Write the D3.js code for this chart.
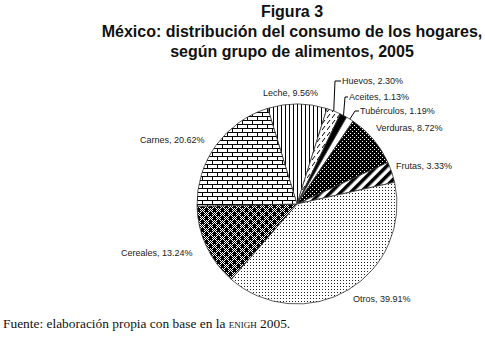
<!DOCTYPE html>
<html>
<head>
<meta charset="utf-8">
<script src="https://cdn.jsdelivr.net/npm/d3@7"></script>
<style>
  body { margin: 0; background: #fff; }
  svg { display: block; }
</style>
</head>
<body>
<script>
// data
var categories = ["Leche", "Huevos", "Aceites", "Tubérculos", "Verduras", "Frutas", "Otros", "Cereales", "Carnes"];
var shares = [9.56, 2.30, 1.13, 1.19, 8.72, 3.33, 39.91, 13.24, 20.62];
var fills = ["vlines", "dashdiag", "black", "white", "darkdots", "widediag", "lightdots", "checks", "bricks"];

// where each label sits (text start x, baseline y) and leader elbow if any
var labelPos = {
  "Leche":      {x: 263, y: 96},
  "Huevos":     {x: 342, y: 84, elbow: [335, 81]},
  "Aceites":    {x: 349, y: 100, elbow: [345, 97]},
  "Tubérculos": {x: 360, y: 114, elbow: [355, 111]},
  "Verduras":   {x: 376, y: 131},
  "Frutas":     {x: 396, y: 169},
  "Otros":      {x: 353, y: 302},
  "Cereales":   {x: 121, y: 256},
  "Carnes":     {x: 140, y: 143}
};

var width = 485, height = 339;
var cx = 297, cy = 204, r = 100;
var start = -17 * Math.PI / 180;

var svg = d3.select("body").append("svg")
    .attr("width", width)
    .attr("height", height);

var defs = svg.append("defs");

function pat(id, w, h){
  var p = defs.append("pattern")
      .attr("id", id)
      .attr("patternUnits", "userSpaceOnUse")
      .attr("width", w).attr("height", h);
  return p;
}

// vertical lines
var p = pat("vlines", 4, 4);
p.append("rect").attr("width", 4).attr("height", 4).attr("fill", "#fff");
p.append("rect").attr("x", 0).attr("width", 1).attr("height", 4).attr("fill", "#000");

// dashed diagonals
p = pat("dashdiag", 5, 6);
p.append("rect").attr("width", 5).attr("height", 6).attr("fill", "#fff");
p.append("line").attr("x1", 0).attr("y1", 4).attr("x2", 3).attr("y2", 0)
  .attr("stroke", "#000").attr("stroke-width", 1);

// dark dots
p = pat("darkdots", 4, 4);
p.append("rect").attr("width", 4).attr("height", 4).attr("fill", "#000");
p.append("rect").attr("x", 1).attr("y", 1).attr("width", 1).attr("height", 1).attr("fill", "#fff");
p.append("rect").attr("x", 3).attr("y", 3).attr("width", 1).attr("height", 1).attr("fill", "#fff");

// wide diagonals
p = pat("widediag", 7, 7).attr("patternTransform", "rotate(45)");
p.append("rect").attr("width", 7).attr("height", 7).attr("fill", "#fff");
p.append("rect").attr("width", 3.5).attr("height", 7).attr("fill", "#000");

// light dots
p = pat("lightdots", 3, 3);
p.append("rect").attr("width", 3).attr("height", 3).attr("fill", "#fff");
p.append("rect").attr("x", 1).attr("y", 1).attr("width", 1).attr("height", 1).attr("fill", "#222");

// checks
p = pat("checks", 8, 8);
p.append("rect").attr("width", 8).attr("height", 8).attr("fill", "#fff");
for (var i = 0; i < 8; i++){
  for (var j = 0; j < 8; j++){
    if ((i + j) % 2 == 0)
      p.append("rect").attr("x", i).attr("y", j).attr("width", 1).attr("height", 1).attr("fill", "#000");
  }
}
p.append("rect").attr("x", 0).attr("y", 0).attr("width", 3).attr("height", 4).attr("fill", "#000");
p.append("rect").attr("x", 4).attr("y", 4).attr("width", 3).attr("height", 4).attr("fill", "#000");

// bricks
p = pat("bricks", 10, 8);
p.append("rect").attr("width", 10).attr("height", 8).attr("fill", "#fff");
p.append("rect").attr("y", 0).attr("width", 10).attr("height", 1).attr("fill", "#000");
p.append("rect").attr("y", 4).attr("width", 10).attr("height", 1).attr("fill", "#000");
p.append("rect").attr("x", 0).attr("y", 0).attr("width", 1).attr("height", 4).attr("fill", "#000");
p.append("rect").attr("x", 5).attr("y", 4).attr("width", 1).attr("height", 4).attr("fill", "#000");

function fillOf(f){
  if (f == "black") return "#000";
  if (f == "white") return "#fff";
  return "url(#" + f + ")";
}

var data = categories.map(function(c, i){ return {name: c, value: shares[i], fill: fills[i]}; });

var pie = d3.pie()
    .sort(null)
    .value(function(d){ return d.value; })
    .startAngle(start)
    .endAngle(start + 2 * Math.PI);

var arc = d3.arc().innerRadius(0).outerRadius(r);

var g = svg.append("g").attr("transform", "translate(" + cx + "," + cy + ")");

var arcs = pie(data);

g.selectAll(".slice")
    .data(arcs)
  .enter().append("path")
    .attr("class", "slice")
    .attr("d", arc)
    .attr("fill", function(d){ return fillOf(d.data.fill); })
    .attr("stroke", "#333")
    .attr("stroke-width", 0.8);

// leader lines for the thin slices
arcs.forEach(function(d){
  var lp = labelPos[d.data.name];
  if (!lp.elbow) return;
  var a = (d.startAngle + d.endAngle) / 2;
  var ex = cx + r * Math.sin(a), ey = cy - r * Math.cos(a);
  svg.append("polyline")
      .attr("points", ex + "," + ey + " " + lp.elbow[0] + "," + lp.elbow[1] + " " + (lp.x - 1) + "," + lp.elbow[1])
      .attr("fill", "none")
      .attr("stroke", "#000")
      .attr("stroke-width", 1);
});

svg.selectAll(".lbl")
    .data(arcs)
  .enter().append("text")
    .attr("class", "lbl")
    .attr("x", function(d){ return labelPos[d.data.name].x; })
    .attr("y", function(d){ return labelPos[d.data.name].y; })
    .style("font-family", "Liberation Sans, Arial, sans-serif")
    .style("font-size", "9px")
    .attr("fill", "#222")
    .text(function(d){ return d.data.name + ", " + d.data.value.toFixed(2) + "%"; });

// title
var titleLines = ["Figura 3", "México: distribución del consumo de los hogares,", "según grupo de alimentos, 2005"];
svg.selectAll(".title")
    .data(titleLines)
  .enter().append("text")
    .attr("class", "title")
    .attr("x", 292)
    .attr("y", function(d, i){ return 17 + i * 20; })
    .attr("text-anchor", "middle")
    .style("font-family", "Liberation Sans, Arial, sans-serif")
    .style("font-weight", "bold")
    .style("font-size", "16px")
    .attr("fill", "#111")
    .text(function(d){ return d; });

// source note
var note = svg.append("text")
    .attr("x", 3)
    .attr("y", 328)
    .style("font-family", "Liberation Serif, Times New Roman, serif")
    .style("font-size", "13.4px")
    .attr("fill", "#111");
note.append("tspan").text("Fuente: elaboración propia con base en la ");
note.append("tspan").style("font-variant", "small-caps").text("enigh");
note.append("tspan").text(" 2005.");
</script>
</body>
</html>
